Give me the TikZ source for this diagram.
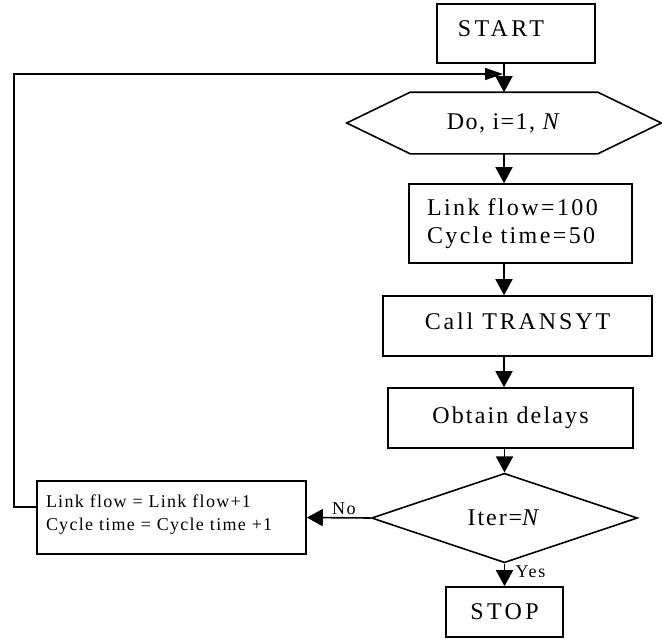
\documentclass[tikz,border=0pt]{standalone}
\usepackage{fontspec}
\setmainfont{Liberation Serif}
\usetikzlibrary{shapes.geometric,arrows.meta,calc}
\begin{document}
\begin{tikzpicture}[x=1pt,y=-1pt,
  line width=1.6pt,
  arr/.style={-{Triangle[length=16pt,width=17pt]}},
  bx/.style={draw, rectangle, inner sep=0pt},
  big/.style={font=\fontsize{24}{28}\selectfont\addfontfeature{LetterSpace=#1}},
  small/.style={font=\fontsize{18}{23}\selectfont\addfontfeature{LetterSpace=#1}}
]
\useasboundingbox (0,0) rectangle (662,638);

\node[bx, minimum width=158pt, minimum height=59pt, big=14] (start) at (516,33.5) {START\rule[-10pt]{0pt}{10pt}\hspace*{30pt}};
\node[minimum width=186pt, minimum height=60pt, inner sep=0pt, big=6] (do) at (504,123) {Do, i=1, \textit{N}};
\draw (do.north west) -- (do.north east) -- ($(do.east)+(63.5,0)$) -- (do.south east) -- (do.south west) -- ($(do.west)+(-63.5,0)$) -- cycle;
\node[bx, minimum width=223pt, minimum height=79pt, inner xsep=18pt, text width=187pt, align=left, big=10] (link) at (520.5,223.5) {Link flow=100\\Cycle time=50};
\node[bx, minimum width=269pt, minimum height=60pt, big=12] (call) at (517.5,326) {Call TRANSYT\rule[-10pt]{0pt}{10pt}};
\node[bx, minimum width=245pt, minimum height=60pt, big=9] (obt) at (510.5,418) {Obtain delays};
\node[draw, diamond, minimum width=266pt, minimum height=78pt, inner sep=0pt, big=8] (iter) at (504.5,518) {Iter=\textit{N}};
\node[bx, minimum width=117pt, minimum height=50pt, big=14] (stop) at (504.5,612) {STOP};
\node[bx, minimum width=269pt, minimum height=73pt, inner xsep=9pt, text width=251pt, align=left, small=7] (upd) at (171.5,517.5) {Link flow = Link flow+1\\Cycle time = Cycle time +1\rule[-10pt]{0pt}{10pt}};

\coordinate (fbl) at (14,74);
\coordinate (fbr) at (503,74);

\draw[arr] (start.south -| do.north) -- (do.north);
\draw[arr] (do.south) -- (do.south |- link.north);
\draw[arr] (link.south -| do.south) -- (do.south |- call.north);
\draw[arr] (call.south -| do.south) -- (do.south |- obt.north);
\draw[arr] (obt.south -| iter.north) -- (iter.north);
\draw[arr] (iter.south) -- (iter.south |- stop.north) node[pos=0.63, anchor=base west, xshift=7pt, small=10] {Yes};
\draw[arr] (iter.west) -- (upd.east) node[pos=0.667, anchor=base west, yshift=3pt, small=8] {No};
\draw[-{Triangle[length=18pt,width=12pt]}] ([yshift=10.5pt]upd.west) -| (fbl) -- (fbr);
\end{tikzpicture}
\end{document}
